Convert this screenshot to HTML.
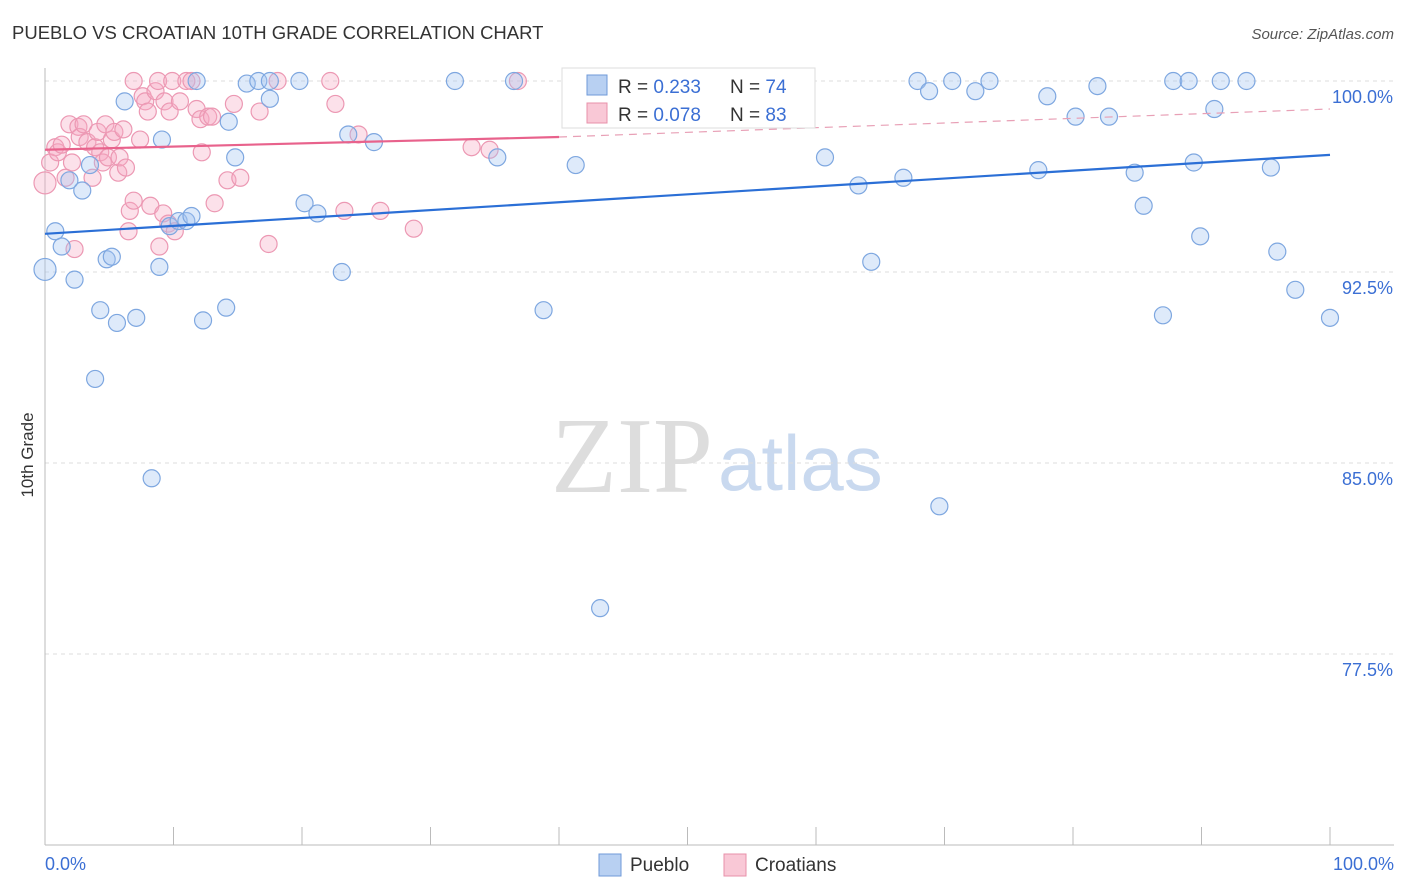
<!DOCTYPE html>
<html><head><meta charset="utf-8"><style>
body{margin:0;background:#fff;font-family:"Liberation Sans",sans-serif;}
</style></head><body>
<svg id="chart" width="1406" height="892" xmlns="http://www.w3.org/2000/svg" style="display:block">
<text x="12" y="39" font-size="18.5" fill="#333">PUEBLO VS CROATIAN 10TH GRADE CORRELATION CHART</text>
<text x="1394" y="39" font-size="15" fill="#555" text-anchor="end" font-style="italic">Source: ZipAtlas.com</text>
<text x="713" y="492" font-size="108" text-anchor="end" fill="#ddd" font-family="Liberation Serif">ZIP</text>
<text x="718" y="490" font-size="78" fill="#c9d9ef">atlas</text>
<g id="grid"></g>
<g id="marks"></g>
<text transform="translate(33,455) rotate(-90)" font-size="17" fill="#333" text-anchor="middle">10th Grade</text>
<text x="45" y="870" font-size="18" fill="#3b6fd4">0.0%</text>
<text x="1394" y="870" font-size="18" fill="#3b6fd4" text-anchor="end">100.0%</text>
<g>
<rect x="562" y="68" width="253" height="60" fill="#fff" stroke="#ddd"/>
<rect x="587" y="75" width="20" height="20" fill="#b8d0f2" stroke="#6f9ad8"/>
<text x="618" y="93" font-size="19" fill="#333">R = <tspan fill="#3b6fd4">0.233</tspan></text>
<text x="730" y="93" font-size="19" fill="#333">N = <tspan fill="#3b6fd4">74</tspan></text>
<rect x="587" y="103" width="20" height="20" fill="#f9c8d6" stroke="#e890aa"/>
<text x="618" y="121" font-size="19" fill="#333">R = <tspan fill="#3b6fd4">0.078</tspan></text>
<text x="730" y="121" font-size="19" fill="#333">N = <tspan fill="#3b6fd4">83</tspan></text>
</g>
<g>
<rect x="599" y="854" width="22" height="22" fill="#b8d0f2" stroke="#6f9ad8"/>
<text x="630" y="871" font-size="19" fill="#333">Pueblo</text>
<rect x="724" y="854" width="22" height="22" fill="#f9c8d6" stroke="#e890aa"/>
<text x="755" y="871" font-size="19" fill="#333">Croatians</text>
</g>
</svg>
<script>
const yTicks=[100,92.5,85,77.5];
const yTickLabels=["100.0%","92.5%","85.0%","77.5%"];
const puebloX=[0,0.8,1.3,1.9,2.3,2.9,3.5,3.9,4.3,4.8,5.2,5.6,6.2,7.1,8.3,8.9,9.1,9.7,10.4,11,11.4,11.8,12.3,14.1,14.3,14.8,15.7,16.6,17.5,17.5,19.8,20.2,21.2,23.1,23.6,25.6,31.9,35.2,36.5,38.8,41.3,43.2,60.7,63.3,64.3,66.8,67.9,68.8,69.6,70.6,72.4,73.5,77.3,78,80.2,81.9,82.8,84.8,85.5,87,87.8,89,89.4,89.9,91,91.5,93.5,95.4,95.9,97.3,100,42.2,46.8];
const puebloY=[92.6,94.1,93.5,96.1,92.2,95.7,96.7,88.3,91,93,93.1,90.5,99.2,90.7,84.4,92.7,97.7,94.3,94.5,94.5,94.7,100,90.6,91.1,98.4,97,99.9,100,100,99.3,100,95.2,94.8,92.5,97.9,97.6,100,97,100,91,96.7,79.3,97,95.9,92.9,96.2,100,99.6,83.3,100,99.6,100,96.5,99.4,98.6,99.8,98.6,96.4,95.1,90.8,100,100,96.8,93.9,98.9,100,100,96.6,93.3,91.8,90.7,100,100];
const croatX=[0,0.4,0.8,1,1.3,1.6,1.9,2.1,2.3,2.6,2.7,3,3.3,3.7,3.9,4.1,4.3,4.5,4.7,4.9,5.2,5.4,5.7,5.8,6.1,6.3,6.5,6.6,6.9,6.9,7.4,7.6,7.8,8,8.2,8.6,8.8,8.9,9.2,9.3,9.6,9.7,9.9,10.1,10.5,11,11.4,11.8,12.1,12.2,12.7,13,13.2,14.2,14.7,15.2,16.7,17.4,18.1,22.2,22.6,23.3,24.4,26.1,28.7,33.2,34.6,36.8];
const croatY=[96,96.8,97.4,97.2,97.5,96.2,98.3,96.8,93.4,98.2,97.8,98.3,97.6,96.2,97.4,98,97.2,96.8,98.3,97,97.7,98,96.4,97,98.1,96.6,94.1,94.9,100,95.3,97.7,99.4,99.2,98.8,95.1,99.6,100,93.5,94.8,99.2,94.4,98.8,100,94.1,99.2,100,100,98.9,98.5,97.2,98.6,98.6,95.2,96.1,99.1,96.2,98.8,93.6,100,100,99.1,94.9,97.9,94.9,94.2,97.4,97.3,100];
const puebloTrend=[[0,94],[100,97.1]];
const croatTrend=[[0,97.3],[40,97.8],[100,98.9]];
const NS="http://www.w3.org/2000/svg";
const xs=v=>45+v*12.85;
const ys=v=>81+(100-v)/7.5*191;
const grid=document.getElementById('grid'),marks=document.getElementById('marks');
function mk(tag,attrs,parent){const e=document.createElementNS(NS,tag);for(const k in attrs)e.setAttribute(k,attrs[k]);parent.appendChild(e);return e;}
yTicks.forEach((t,i)=>{
 const l=mk('line',{x1:45,x2:1394,y1:ys(t),y2:ys(t),stroke:'#ddd','stroke-dasharray':'4,4'},grid);
 
 
 const tx=mk('text',{x:1393,y:ys(t)+22,'font-size':18,fill:'#3b6fd4','text-anchor':'end'},grid);
 tx.textContent=yTickLabels[i];
 
 
});
const ax=mk('line',{x1:45,x2:1394,y1:845,y2:845,stroke:'#bbb'},grid);


const ay=mk('line',{x1:45,x2:45,y1:68,y2:845,stroke:'#bbb'},grid);


for(let i=0;i<=10;i++){const t=mk('line',{x1:xs(i*10),x2:xs(i*10),y1:827,y2:845,stroke:'#bbb'},grid);
 
 }
croatX.forEach((x,i)=>{const c=mk('circle',{cx:xs(x),cy:ys(croatY[i]),r:x===0?11:8.5,fill:'rgba(246,170,195,0.35)',stroke:'#ec98b3','stroke-width':1.2},marks);
 
 });
puebloX.forEach((x,i)=>{const c=mk('circle',{cx:xs(x),cy:ys(puebloY[i]),r:x===0?11:8.5,fill:'rgba(160,195,240,0.35)',stroke:'#7ea7e0','stroke-width':1.2},marks);
 
 });
const pt=mk('line',{x1:xs(puebloTrend[0][0]),y1:ys(puebloTrend[0][1]),x2:xs(puebloTrend[1][0]),y2:ys(puebloTrend[1][1]),stroke:'#2b6fd6','stroke-width':2.2},marks);


const ct=mk('line',{x1:xs(croatTrend[0][0]),y1:ys(croatTrend[0][1]),x2:xs(croatTrend[1][0]),y2:ys(croatTrend[1][1]),stroke:'#e8628c','stroke-width':2.2},marks);


const cd=mk('line',{x1:xs(croatTrend[1][0]),y1:ys(croatTrend[1][1]),x2:xs(croatTrend[2][0]),y2:ys(croatTrend[2][1]),stroke:'#e8a0b6','stroke-width':1.2,'stroke-dasharray':'8,6'},marks);


</script>
</body></html>
